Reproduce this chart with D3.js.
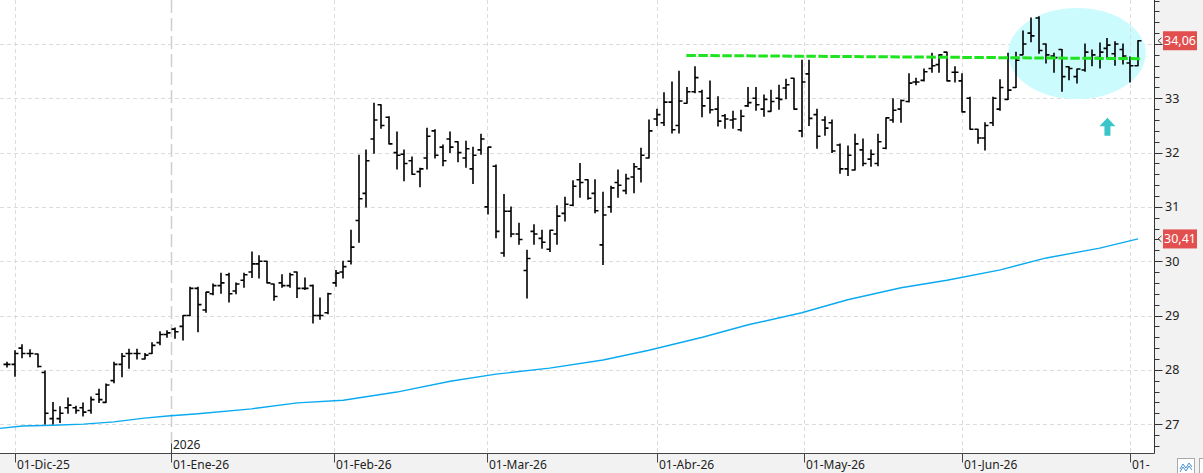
<!DOCTYPE html>
<html>
<head>
<meta charset="utf-8">
<script src="https://cdn.jsdelivr.net/npm/d3@7"></script>
<style>
  body { margin: 0; background: #fff; }
  svg { display: block; font-family: "Segoe UI", "Noto Sans", "DejaVu Sans", sans-serif; }
</style>
</head>
<body>
<div id="chart"></div>
<script>
// Daily OHLC bars, one entry per trading session (oldest first)
const opens = [28.1,28.1,28.4,28.3,28.29,27.95,27.1,27.1,27.3,27.3,27.3,27.25,27.55,27.4,27.8,28.1,28.3,28.3,28.2,28.3,
  28.5,28.65,28.75,28.8,29.0,29.5,29.1,29.4,29.55,29.75,29.45,29.65,29.8,29.95,30.0,29.58,29.6,29.55,29.8,29.5,
  29.55,29.0,29.05,29.6,29.8,30.0,30.75,31.25,32.25,32.88,32.65,32.0,31.97,31.85,31.65,31.9,32.4,32.1,32.25,32.2,
  31.9,31.7,32.05,31.0,31.75,30.15,30.92,30.5,29.83,30.55,30.42,30.22,30.5,30.88,31.03,31.5,31.5,31.25,30.3,31.0,
  31.45,31.3,31.55,31.7,31.9,32.62,32.55,32.93,32.5,32.91,33.12,33.12,33.0,32.8,32.68,32.6,32.42,32.86,33.0,32.8,
  32.76,33.0,33.19,33.37,32.4,33.45,32.7,32.6,32.55,32.14,31.7,31.68,32.05,31.88,31.8,32.08,32.6,32.8,32.94,33.3,
  33.33,33.55,33.62,33.85,33.48,33.32,33.0,32.43,32.27,32.55,32.8,32.98,33.2,33.8,34.2,34.48,34.0,33.78,33.9,33.58,
  33.4,33.52,33.74,33.75,33.92,33.82,33.9,33.65,33.6];
const highs = [28.14,28.35,28.46,28.37,28.29,27.98,27.4,27.32,27.48,27.33,27.39,27.5,27.64,27.74,28.14,28.3,28.38,28.38,28.3,28.5,
  28.7,28.72,28.77,29.0,29.52,29.52,29.43,29.58,29.78,29.78,29.6,29.78,30.17,30.1,30.0,29.58,29.75,29.78,29.8,29.69,
  29.56,29.32,29.41,29.83,30.0,30.57,31.95,32.05,32.91,32.88,32.66,32.38,32.05,31.92,31.71,32.45,32.42,32.14,32.38,32.2,
  32.21,32.1,32.34,32.1,31.77,31.23,31.0,30.7,30.2,30.67,30.57,30.57,31.02,31.18,31.48,31.8,31.5,31.5,31.27,31.38,
  31.68,31.6,31.8,32.08,32.6,32.8,33.1,33.3,33.5,33.2,33.58,33.15,33.32,33.03,32.7,32.76,32.78,33.2,33.2,33.06,
  33.15,33.24,33.35,33.37,33.7,33.7,32.8,32.66,32.6,32.16,32.12,32.34,32.25,32.05,32.34,32.64,32.99,32.97,33.45,33.37,
  33.54,33.83,33.8,33.85,33.58,33.45,33.02,32.43,32.55,33.02,33.34,33.83,33.85,34.24,34.48,34.5,34.0,33.83,33.9,33.58,
  33.54,34.0,33.89,34.02,34.1,34.04,34.0,33.76,34.06];
const lows = [28.05,27.88,28.22,28.24,28.05,27.0,27.0,27.03,27.2,27.2,27.15,27.2,27.4,27.4,27.76,27.87,28.03,28.2,28.2,28.3,
  28.46,28.6,28.58,28.55,29.0,28.7,29.06,29.38,29.41,29.25,29.4,29.52,29.7,29.69,29.6,29.28,29.52,29.52,29.33,29.48,
  28.86,28.93,29.03,29.54,29.69,29.95,30.35,31.0,31.99,32.45,32.16,31.7,31.48,31.6,31.37,31.7,31.9,31.76,32.0,31.83,
  31.73,31.43,31.97,30.87,30.43,30.09,30.45,30.31,29.32,30.31,30.24,30.18,30.31,30.74,31.02,31.18,31.14,30.89,29.94,30.9,
  31.18,31.24,31.26,31.46,31.9,32.5,32.5,32.36,32.36,32.91,33.1,32.66,32.73,32.49,32.45,32.45,32.4,32.85,32.78,32.67,
  32.76,32.8,32.99,32.8,32.29,32.5,32.08,32.32,32.0,31.62,31.58,31.68,31.76,31.75,31.76,32.07,32.56,32.56,32.93,33.25,
  33.32,33.48,33.48,33.32,33.3,32.75,32.43,32.17,32.05,32.5,32.78,32.98,33.2,33.8,34.04,33.83,33.65,33.48,33.13,33.34,
  33.28,33.5,33.6,33.56,33.74,33.61,33.63,33.3,33.6];
const closes = [28.1,28.3,28.3,28.3,28.06,27.2,27.25,27.2,27.35,27.25,27.22,27.45,27.45,27.72,28.1,28.25,28.3,28.3,28.27,28.45,
  28.65,28.68,28.7,29.0,29.5,29.2,29.43,29.55,29.6,29.4,29.58,29.75,29.95,30.0,29.6,29.35,29.55,29.75,29.5,29.5,
  29.0,29.0,29.4,29.78,29.9,30.26,31.15,31.85,32.6,32.5,32.16,31.95,31.8,31.6,31.7,32.3,31.95,31.85,32.1,32.0,
  32.07,31.95,32.25,32.1,30.55,30.92,30.5,30.4,30.05,30.5,30.35,30.57,30.83,31.05,31.38,31.45,31.16,30.93,30.85,31.35,
  31.4,31.52,31.74,31.95,32.4,32.7,32.93,32.42,32.95,33.12,33.38,32.86,32.79,32.58,32.62,32.62,32.67,32.92,32.88,32.98,
  32.94,32.98,33.25,32.8,33.3,32.63,32.3,32.45,32.03,31.7,31.95,32.16,31.8,31.97,32.2,32.64,32.78,32.96,33.28,33.3,
  33.49,33.6,33.8,33.32,33.48,32.75,32.43,32.27,32.5,33.0,33.2,33.15,33.7,34.0,34.15,33.88,33.8,33.75,33.4,33.55,
  33.54,33.85,33.8,33.85,33.98,34.0,33.78,33.6,34.06];

// Moving average (bar index, value)
const maIndex = [-1,2,6,10,14,18,21,25,32,38,44,51,58,64,71,78,84,91,97,104,110,117,123,130,136,143,148];
const maValues = [26.92,26.965,26.98,27.0,27.04,27.11,27.15,27.19,27.28,27.39,27.44,27.59,27.79,27.92,28.03,28.18,
  28.36,28.6,28.83,29.05,29.29,29.51,29.65,29.84,30.06,30.24,30.41];

// Month labels on the time axis and their bar positions
const monthLabels = ["01-Dic-25","01-Ene-26","01-Feb-26","01-Mar-26","01-Abr-26","01-May-26","01-Jun-26","01-"];
const monthPos = [1, 21.5, 42.75, 62.75, 85, 104.3, 125, 147];
const yearLabel = "2026";
const yearPos = 21.5;

// Price axis ticks
const yTicks = [27, 28, 29, 30, 31, 32, 33, 34];

// Drawn annotations: resistance line and last-value tags
const resIndex = [88.9, 148.4];
const resValues = [33.79, 33.73];
const priceTags = [34.06, 30.41];

const W = 1203, H = 473;
const plotRight = 1154.5, plotBottom = 453.5;

const x = d3.scaleLinear().domain([0, 148]).range([7, 1138]);
const y = d3.scaleLinear().domain([27, 34]).range([424.1, 44]);

const svg = d3.select("#chart").append("svg")
  .attr("width", W).attr("height", H);

// Panels
svg.append("rect").attr("x", 0).attr("y", 0).attr("width", W).attr("height", H).attr("fill", "#f2f2f2");
svg.append("rect").attr("x", 0).attr("y", 0).attr("width", plotRight).attr("height", plotBottom).attr("fill", "#fff");

const plot = svg.append("g");
plot.append("clipPath").attr("id", "clip")
  .append("rect").attr("x", 0).attr("y", 0).attr("width", plotRight).attr("height", plotBottom);

// Horizontal grid
plot.append("g").selectAll("line").data(yTicks).join("line")
  .attr("x1", 0).attr("x2", plotRight)
  .attr("y1", d => Math.round(y(d)) + 0.5).attr("y2", d => Math.round(y(d)) + 0.5)
  .attr("stroke", "#dcdcdc").attr("stroke-dasharray", "4,3");

// Highlight ellipse
plot.append("ellipse")
  .attr("cx", x(140)).attr("cy", y(33.825))
  .attr("rx", x(149) - x(140)).attr("ry", y(33) - y(33.84))
  .attr("fill", "#ccfbfd");

// Vertical grid at month starts
plot.append("g").selectAll("line").data(monthPos).join("line")
  .attr("x1", d => Math.round(x(d)) + 0.5).attr("x2", d => Math.round(x(d)) + 0.5)
  .attr("y1", 0).attr("y2", plotBottom)
  .attr("stroke", d => d === yearPos ? "#cfcfcf" : "#dcdcdc")
  .attr("stroke-width", d => d === yearPos ? 1.5 : 1)
  .attr("stroke-dasharray", d => d === yearPos ? "13,5" : "4,3");

// Moving average
const maLine = d3.line().x(d => x(d[0])).y(d => y(d[1]));
plot.append("path")
  .datum(maIndex.map((d, i) => [d, maValues[i]]))
  .attr("clip-path", "url(#clip)")
  .attr("d", maLine)
  .attr("fill", "none").attr("stroke", "#0aaaf0").attr("stroke-width", 1.4);

// OHLC bars
const bars = plot.append("g").attr("stroke", "#000").attr("stroke-width", 1.6).attr("fill", "none");
opens.forEach((o, i) => {
  const cx = Math.round(x(i));
  const yo = y(o), yh = y(highs[i]), yl = y(lows[i]), yc = y(closes[i]);
  bars.append("path")
    .attr("d", `M${cx},${yh - 0.5}V${yl + 0.5}M${cx - 3.5},${yo}H${cx}M${cx},${yc}H${cx + 3.5}`);
});

// Resistance line
plot.append("line")
  .attr("x1", x(resIndex[0])).attr("y1", y(resValues[0]))
  .attr("x2", x(resIndex[1])).attr("y2", y(resValues[1]))
  .attr("stroke", "#1de41d").attr("stroke-width", 3)
  .attr("stroke-dasharray", "9.5,2.5");

// Up arrow
const ax = x(144), tip = y(32.64), base = y(32.31);
plot.append("path")
  .attr("d", `M${ax},${tip}L${ax + 8},${tip + 8.5}L${ax + 3},${tip + 8.5}L${ax + 3},${base}L${ax - 3},${base}L${ax - 3},${tip + 8.5}L${ax - 8},${tip + 8.5}Z`)
  .attr("fill", "#3ac6c8");

// Right price axis
const axisG = svg.append("g");
axisG.append("line").attr("x1", plotRight).attr("x2", plotRight).attr("y1", 0).attr("y2", plotBottom)
  .attr("stroke", "#333");
const minorTicks = d3.range(26.6, 34.9, 0.2).filter(v => Math.abs(v - Math.round(v)) > 0.01);
axisG.selectAll(".minor").data(minorTicks).join("line")
  .attr("x1", plotRight).attr("x2", plotRight + 5)
  .attr("y1", d => Math.round(y(d)) + 0.5).attr("y2", d => Math.round(y(d)) + 0.5)
  .attr("stroke", "#333");
axisG.selectAll(".major").data(yTicks).join("line")
  .attr("x1", plotRight).attr("x2", plotRight + 8)
  .attr("y1", d => Math.round(y(d)) + 0.5).attr("y2", d => Math.round(y(d)) + 0.5)
  .attr("stroke", "#333");
// labels hidden where a value tag sits on top of them
const shownTicks = yTicks.filter(t => priceTags.every(p => Math.abs(y(t) - y(p)) > 12));
axisG.selectAll("text").data(shownTicks).join("text")
  .attr("x", 1165).attr("y", d => y(d)).attr("dy", "0.36em")
  .attr("font-size", 12.5).attr("fill", "#222")
  .text(d => d);

// Price tags
const fmt = v => v.toFixed(2).replace(".", ",");
priceTags.forEach(v => {
  const ty = y(v);
  axisG.append("path")
    .attr("d", `M${plotRight + 7},${ty - 3}L${plotRight + 3.5},${ty}L${plotRight + 7},${ty + 3}`)
    .attr("fill", "none").attr("stroke", "#444");
  axisG.append("rect")
    .attr("x", 1163).attr("y", ty - 9.5).attr("width", 34).attr("height", 19)
    .attr("fill", "#e24f4f");
  axisG.append("text")
    .attr("x", 1180).attr("y", ty).attr("dy", "0.36em")
    .attr("text-anchor", "middle").attr("font-size", 12.5).attr("fill", "#fff")
    .text(fmt(v));
});

// Bottom time axis
const xAxisG = svg.append("g");
xAxisG.append("line").attr("x1", 0).attr("x2", plotRight).attr("y1", plotBottom).attr("y2", plotBottom)
  .attr("stroke", "#444");
xAxisG.selectAll(".tick").data(monthPos).join("line")
  .attr("x1", d => Math.round(x(d)) + 0.5).attr("x2", d => Math.round(x(d)) + 0.5)
  .attr("y1", plotBottom).attr("y2", plotBottom + 9)
  .attr("stroke", "#444");
xAxisG.selectAll("text").data(monthPos).join("text")
  .attr("x", d => Math.round(x(d)) + 2).attr("y", 469)
  .attr("font-size", 12).attr("fill", "#222")
  .text((d, i) => monthLabels[i]);

// Year marker
xAxisG.append("line")
  .attr("x1", Math.round(x(yearPos)) + 0.5).attr("x2", Math.round(x(yearPos)) + 0.5)
  .attr("y1", plotBottom - 10).attr("y2", plotBottom)
  .attr("stroke", "#444");
xAxisG.append("text")
  .attr("x", Math.round(x(yearPos)) + 2).attr("y", 449)
  .attr("font-size", 12).attr("fill", "#222")
  .text(yearLabel);

// Small toolbar buttons at the bottom right
svg.append("rect").attr("x", 1177.5).attr("y", 458.5).attr("width", 17).attr("height", 17)
  .attr("fill", "#fff").attr("stroke", "#aaa");
svg.append("path").attr("d", "M1180,469L1183,464L1186,468L1189,463L1192,467M1180,472L1183,467L1186,471L1189,466L1192,470")
  .attr("fill", "none").attr("stroke", "#4a90d9").attr("stroke-width", 1);
svg.append("rect").attr("x", 1199.5).attr("y", 458.5).attr("width", 10).attr("height", 17)
  .attr("fill", "#fff").attr("stroke", "#aaa");
</script>
</body>
</html>
